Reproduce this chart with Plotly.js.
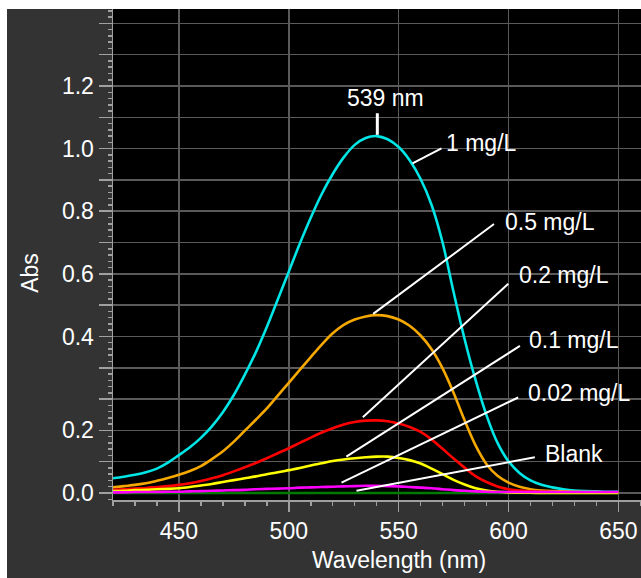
<!DOCTYPE html>
<html>
<head>
<meta charset="utf-8">
<script src="https://cdn.plot.ly/plotly-3.0.1.min.js"></script>
<style>
  html, body { margin: 0; padding: 0; background: #ffffff; }
  #chart { position: absolute; left: 7px; top: 9px; width: 634px; height: 569px; }
</style>
</head>
<body>
<div id="chart"></div>
<script>
// Wavelength samples (nm), every 5 nm
const wavelength = [420, 425, 430, 435, 440, 445, 450, 455, 460, 465, 470, 475, 480, 485, 490, 495,
                    500, 505, 510, 515, 520, 525, 530, 535, 540, 545, 550, 555, 560, 565, 570, 575,
                    580, 585, 590, 595, 600, 605, 610, 615, 620, 625, 630, 635, 640, 645, 650];

// Absorbance (in plotted axis units, grid step = 0.1)
const abs1mg = [0.047, 0.052, 0.058, 0.066, 0.078, 0.097, 0.121, 0.146, 0.176, 0.213, 0.258, 0.313, 0.378, 0.449, 0.530, 0.618,
                0.707, 0.796, 0.879, 0.955, 1.019, 1.072, 1.112, 1.134, 1.140, 1.130, 1.105, 1.063, 1.003, 0.920, 0.800, 0.642,
                0.492, 0.361, 0.248, 0.160, 0.101, 0.064, 0.040, 0.026, 0.018, 0.012, 0.008, 0.006, 0.005, 0.004, 0.004];
const abs05mg = [0.018, 0.022, 0.026, 0.031, 0.039, 0.048, 0.058, 0.070, 0.086, 0.108, 0.133, 0.164, 0.199, 0.234, 0.270, 0.311,
                 0.352, 0.393, 0.434, 0.474, 0.510, 0.537, 0.554, 0.564, 0.568, 0.565, 0.554, 0.534, 0.503, 0.459, 0.398, 0.320,
                 0.232, 0.152, 0.092, 0.055, 0.033, 0.020, 0.012, 0.008, 0.006, 0.005, 0.004, 0.003, 0.003, 0.002, 0.002];
const abs02mg = [0.010, 0.012, 0.014, 0.016, 0.019, 0.022, 0.026, 0.031, 0.038, 0.047, 0.057, 0.069, 0.082, 0.096, 0.111, 0.127,
                 0.143, 0.160, 0.177, 0.193, 0.207, 0.219, 0.227, 0.231, 0.232, 0.229, 0.222, 0.211, 0.195, 0.171, 0.141, 0.110,
                 0.081, 0.054, 0.035, 0.021, 0.012, 0.008, 0.005, 0.004, 0.003, 0.002, 0.002, 0.002, 0.002, 0.002, 0.002];
const abs01mg = [0.006, 0.007, 0.009, 0.010, 0.012, 0.013, 0.015, 0.019, 0.024, 0.029, 0.035, 0.041, 0.047, 0.053, 0.060, 0.066,
                 0.073, 0.080, 0.088, 0.095, 0.102, 0.107, 0.111, 0.114, 0.116, 0.116, 0.112, 0.105, 0.094, 0.078, 0.060, 0.042,
                 0.027, 0.015, 0.008, 0.004, 0.002, 0.001, 0.001, 0.000, 0.000, 0.000, 0.000, 0.000, 0.000, 0.000, 0.000];
const abs002mg = [0.002, 0.002, 0.003, 0.003, 0.003, 0.004, 0.004, 0.005, 0.006, 0.007, 0.008, 0.009, 0.010, 0.012, 0.013, 0.014,
                  0.015, 0.017, 0.018, 0.019, 0.020, 0.021, 0.022, 0.023, 0.023, 0.022, 0.021, 0.019, 0.017, 0.015, 0.012, 0.009,
                  0.007, 0.005, 0.004, 0.003, 0.003, 0.003, 0.003, 0.003, 0.003, 0.003, 0.003, 0.003, 0.003, 0.003, 0.003];
const absBlank = [0, 0, 0, 0, 0, 0, 0, 0, 0, 0, 0, 0, 0, 0, 0, 0,
                  0, 0, 0, 0, 0, 0, 0, 0, 0, 0, 0, 0, 0, 0, 0, 0,
                  0, 0, 0, 0, 0, 0, 0, 0, 0, 0, 0, 0, 0, 0, 0];

const seriesNames = ['Blank', '1 mg/L', '0.5 mg/L', '0.2 mg/L', '0.1 mg/L', '0.02 mg/L'];
const seriesData  = [absBlank, abs1mg, abs05mg, abs02mg, abs01mg, abs002mg];
const seriesColors = ['#007a00', '#00e5e5', '#f5a800', '#ff0000', '#ffff00', '#ff00ff'];

// Y tick positions and their printed labels
const yTickVals = [0, 0.1, 0.2, 0.3, 0.4, 0.5, 0.6, 0.7, 0.8, 0.9, 1.0, 1.1, 1.2, 1.3, 1.4, 1.5];
const yTickText = ['0.0', '', '0.2', '', '', '0.4', '', '0.6', '', '0.8', '', '1.0', '', '1.2', '', ''];

// Label annotations: [text, x, y, lineStartX, lineStartY, lineEndX, lineEndY]
const labels = [
  ['1 mg/L',    570.6, 1.117, 556.3, 1.053, 569.5, 1.101],
  ['0.5 mg/L',  597.3, 0.867, 538.4, 0.572, 593.4, 0.859],
  ['0.2 mg/L',  604.0, 0.696, 533.7, 0.242, 599.9, 0.668],
  ['0.1 mg/L',  608.5, 0.489, 526.2, 0.116, 605.2, 0.470],
  ['0.02 mg/L', 607.9, 0.318, 524.0, 0.033, 604.4, 0.305],
  ['Blank',     615.5, 0.126, 530.8, 0.007, 612.0, 0.114]
];
const peakLabel = ['539 nm', 544.1, 1.262, 540.3, 1.144, 540.3, 1.213];

const FONT = 'Liberation Sans, Arial, sans-serif';

const traces = seriesData.map((ys, i) => ({
  x: wavelength,
  y: ys,
  type: 'scatter',
  mode: 'lines',
  name: seriesNames[i],
  line: { color: seriesColors[i], width: 2.6, shape: 'spline', smoothing: 1 },
  hoverinfo: 'x+y+name'
}));

const annotations = labels.map(l => ({
  text: l[0], x: l[1], y: l[2], xref: 'x', yref: 'y',
  xanchor: 'left', yanchor: 'middle', showarrow: false,
  font: { family: FONT, size: 23, color: '#ffffff' }
}));
annotations.push({
  text: peakLabel[0], x: peakLabel[1], y: peakLabel[2], xref: 'x', yref: 'y',
  xanchor: 'center', yanchor: 'middle', showarrow: false,
  font: { family: FONT, size: 23, color: '#ffffff' }
});
annotations.push({
  text: 'Wavelength (nm)', x: 0.5414, y: -0.122, xref: 'paper', yref: 'paper',
  xanchor: 'center', yanchor: 'middle', showarrow: false,
  font: { family: FONT, size: 23, color: '#ffffff' }
});
annotations.push({
  text: 'Abs', x: -0.156, y: 0.462, xref: 'paper', yref: 'paper',
  xanchor: 'center', yanchor: 'middle', showarrow: false, textangle: -90,
  font: { family: FONT, size: 23, color: '#ffffff' }
});

const shapes = labels.map(l => ({
  type: 'line', xref: 'x', yref: 'y',
  x0: l[3], y0: l[4], x1: l[5], y1: l[6],
  line: { color: '#ffffff', width: 2 }
}));
shapes.push({
  type: 'line', xref: 'x', yref: 'y',
  x0: peakLabel[3], y0: peakLabel[4], x1: peakLabel[5], y1: peakLabel[6],
  line: { color: '#ffffff', width: 3 }
});

const axisCommon = {
  showline: true, linecolor: '#a0a0a0', linewidth: 1.5,
  ticks: 'outside', tickcolor: '#a0a0a0', tickwidth: 1.5,
  gridcolor: '#5a5a5a', gridwidth: 1.5, zeroline: false,
  tickfont: { family: FONT, size: 23, color: '#ffffff' }
};

const layout = {
  width: 634, height: 569,
  margin: { l: 106, r: 0, t: 0, b: 78, pad: 0 },
  paper_bgcolor: '#333333',
  plot_bgcolor: '#000000',
  showlegend: false,
  font: { family: FONT, color: '#ffffff' },
  xaxis: Object.assign({}, axisCommon, {
    range: [420, 660.3],
    tickmode: 'linear', tick0: 450, dtick: 50,
    ticklen: 10,
    minor: { tickmode: 'linear', tick0: 420, dtick: 10, ticklen: 4, tickcolor: '#a0a0a0', tickwidth: 1.5, ticks: 'outside', showgrid: false }
  }),
  yaxis: Object.assign({}, axisCommon, {
    range: [-0.0224, 1.546],
    tickmode: 'array', tickvals: yTickVals, ticktext: yTickText,
    ticklen: 13,
    minor: { tickmode: 'linear', tick0: 0, dtick: 0.02, ticklen: 4, tickcolor: '#a0a0a0', tickwidth: 1.5, ticks: 'outside', showgrid: false }
  }),
  annotations: annotations,
  shapes: shapes
};

Plotly.newPlot('chart', traces, layout, { displayModeBar: false, staticPlot: true });
</script>
</body>
</html>
